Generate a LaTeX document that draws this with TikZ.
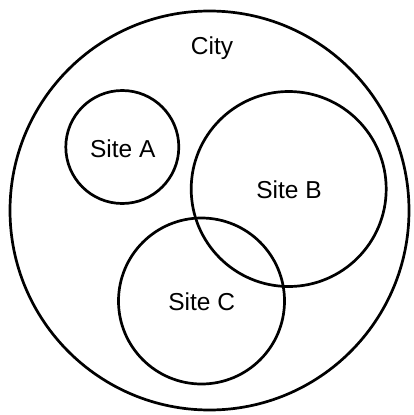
\documentclass[tikz,border=0pt]{standalone}
\usepackage{fontspec}
\setmainfont{Liberation Sans}
\begin{document}
\begin{tikzpicture}[x=1pt,y=-1pt,
  ring/.style={draw=black,line width=2.7pt,circle,inner sep=0pt},
  lbl/.style={font=\fontsize{24.5}{27}\selectfont,inner sep=0pt}]
\useasboundingbox (0,0) rectangle (413,415);
\node[ring,minimum size=399pt] (city) at (209.5,210.5) {};
\node[ring,minimum size=113pt] (a) at (122.3,147) {};
\node[ring,minimum size=195pt] (b) at (288.7,189) {};
\node[ring,minimum size=166pt] (c) at (201.5,301) {};
\node[lbl] (tcity) at (212,48) {City};
\node[lbl] (ta) at (122.7,149) {Site A};
\node[lbl] (tb) at (289,190) {Site B};
\node[lbl] (tc) at (201.7,302) {Site C};
\end{tikzpicture}
\end{document}
